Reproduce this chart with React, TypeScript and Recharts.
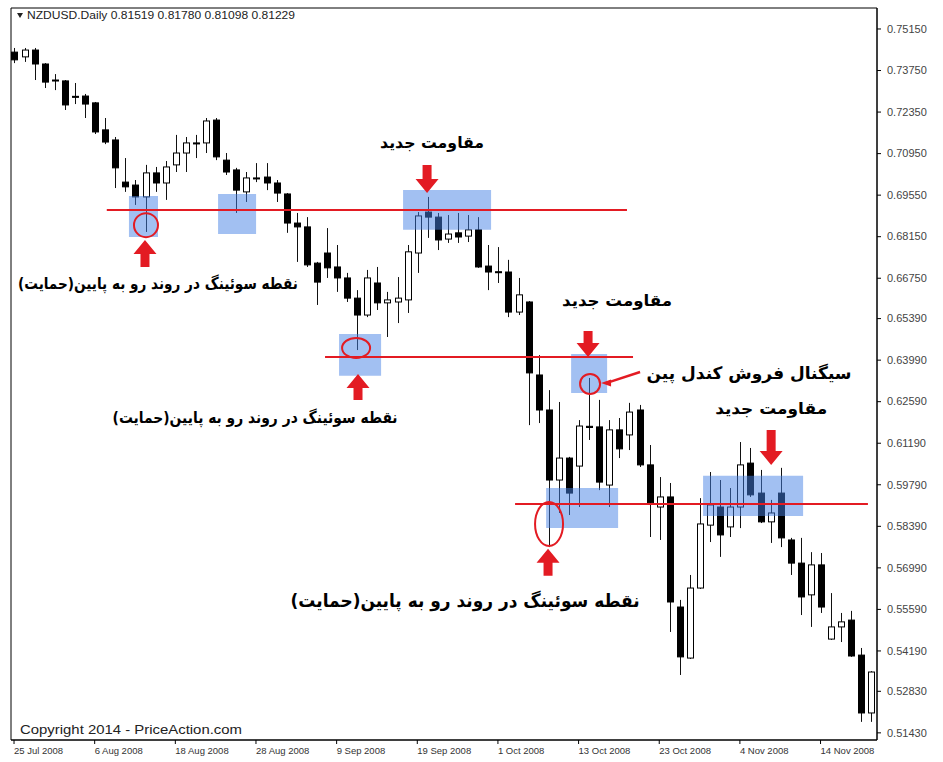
import React from 'react';
import {
  ComposedChart, Bar, XAxis, YAxis, ReferenceLine, ReferenceArea, ReferenceDot, Customized,
} from 'recharts';

// ---------- data ----------
const opens = [
  0.7437, 0.7421, 0.7444, 0.7397, 0.7343, 0.7340, 0.7288, 0.7289, 0.7266, 0.7175,
  0.7141, 0.6999, 0.6989, 0.6949, 0.7030, 0.6996, 0.7057, 0.7097, 0.7131, 0.7131,
  0.7208, 0.7073, 0.7040, 0.6966, 0.7013, 0.7016, 0.6996, 0.6959, 0.6861, 0.6848,
  0.6726, 0.6760, 0.6713, 0.6676, 0.6608, 0.6551, 0.6659, 0.6592, 0.6595, 0.6602,
  0.6760, 0.6898, 0.6881, 0.6807, 0.6828, 0.6817, 0.6838, 0.6716, 0.6697, 0.6696,
  0.6561, 0.6595, 0.6349, 0.6231, 0.5995, 0.6069, 0.6042, 0.6176, 0.6174, 0.5978,
  0.6164, 0.6147, 0.6231, 0.6046, 0.5904, 0.5938, 0.5567, 0.5395, 0.5631, 0.5843,
  0.5904, 0.5837, 0.5904, 0.6052, 0.5951, 0.5854, 0.5951, 0.5793, 0.5715, 0.5608,
  0.5709, 0.5459, 0.5500, 0.5523, 0.5405, 0.5210,
];
const highs = [
  0.7451, 0.7451, 0.7451, 0.7400, 0.7363, 0.7343, 0.7333, 0.7296, 0.7269, 0.7215,
  0.7151, 0.7080, 0.7006, 0.7057, 0.7050, 0.7070, 0.7158, 0.7151, 0.7158, 0.7215,
  0.7215, 0.7097, 0.7047, 0.7033, 0.7063, 0.7063, 0.7006, 0.6962, 0.6895, 0.6881,
  0.6730, 0.6844, 0.6787, 0.6693, 0.6635, 0.6703, 0.6713, 0.6629, 0.6679, 0.6787,
  0.6898, 0.6949, 0.6895, 0.6888, 0.6895, 0.6888, 0.6881, 0.6787, 0.6780, 0.6737,
  0.6676, 0.6598, 0.6416, 0.6298, 0.6258, 0.6073, 0.6197, 0.6339, 0.6265, 0.6197,
  0.6204, 0.6255, 0.6248, 0.6113, 0.6005, 0.5985, 0.5591, 0.5675, 0.5934, 0.6022,
  0.5995, 0.5968, 0.6123, 0.6103, 0.6029, 0.5928, 0.6036, 0.5800, 0.5800, 0.5752,
  0.5749, 0.5614, 0.5547, 0.5554, 0.5429, 0.5351,
];
const lows = [
  0.7400, 0.7404, 0.7343, 0.7316, 0.7309, 0.7242, 0.7262, 0.7215, 0.7161, 0.7127,
  0.6979, 0.6966, 0.6922, 0.6831, 0.6966, 0.6939, 0.7033, 0.7033, 0.7080, 0.7097,
  0.7073, 0.7023, 0.6895, 0.6932, 0.6999, 0.6972, 0.6932, 0.6828, 0.6730, 0.6713,
  0.6585, 0.6676, 0.6629, 0.6595, 0.6433, 0.6544, 0.6568, 0.6477, 0.6524, 0.6558,
  0.6693, 0.6811, 0.6770, 0.6794, 0.6794, 0.6797, 0.6710, 0.6635, 0.6659, 0.6544,
  0.6551, 0.6180, 0.6187, 0.5769, 0.5884, 0.5877, 0.5904, 0.6130, 0.5961, 0.5904,
  0.6069, 0.6096, 0.6039, 0.5803, 0.5793, 0.5483, 0.5338, 0.5392, 0.5628, 0.5786,
  0.5736, 0.5803, 0.5833, 0.5938, 0.5850, 0.5783, 0.5769, 0.5675, 0.5540, 0.5500,
  0.5547, 0.5456, 0.5449, 0.5399, 0.5180, 0.5180,
];
const closes = [
  0.7411, 0.7444, 0.7397, 0.7336, 0.7340, 0.7259, 0.7285, 0.7262, 0.7168, 0.7134,
  0.7047, 0.6983, 0.6949, 0.7030, 0.6996, 0.7050, 0.7097, 0.7131, 0.7129, 0.7205,
  0.7084, 0.7033, 0.6972, 0.7013, 0.7011, 0.6996, 0.6962, 0.6861, 0.6848, 0.6720,
  0.6662, 0.6710, 0.6676, 0.6608, 0.6551, 0.6676, 0.6592, 0.6602, 0.6608, 0.6764,
  0.6885, 0.6881, 0.6804, 0.6824, 0.6814, 0.6838, 0.6713, 0.6696, 0.6695, 0.6561,
  0.6619, 0.6356, 0.6231, 0.5995, 0.6069, 0.5951, 0.6177, 0.6172, 0.5988, 0.6164,
  0.6100, 0.6224, 0.6046, 0.5918, 0.5938, 0.5584, 0.5399, 0.5631, 0.5847, 0.5911,
  0.5810, 0.5904, 0.6046, 0.5945, 0.5854, 0.5884, 0.5800, 0.5715, 0.5601, 0.5709,
  0.5567, 0.5500, 0.5517, 0.5402, 0.5210, 0.5348,
];
const dateLabels = [
  '25 Jul 2008', '6 Aug 2008', '18 Aug 2008', '28 Aug 2008', '9 Sep 2008', '19 Sep 2008',
  '1 Oct 2008', '13 Oct 2008', '23 Oct 2008', '4 Nov 2008', '14 Nov 2008',
];
const dateTickIdx = [0, 8, 16, 24, 32, 40, 48, 56, 64, 72, 80];
const priceTicks = [
  0.7515, 0.7375, 0.7235, 0.7095, 0.6955, 0.6815, 0.6675, 0.6539, 0.6399,
  0.6259, 0.6119, 0.5979, 0.5839, 0.5699, 0.5559, 0.5419, 0.5283, 0.5143,
];
const headerText = 'NZDUSD.Daily  0.81519 0.81780 0.81098 0.81229';
const copyrightText = 'Copyright 2014 - PriceAction.com';

// annotations (bar index / price)
const levelLines = [
  { x1: 9.2, x2: 60.8, p: 0.6905 },
  { x1: 30.85, x2: 61.4, p: 0.6410 },
  { x1: 49.7, x2: 84.7, p: 0.5914 },
];
const zones = [
  { x1: 11.4, x2: 14.28, p1: 0.6814, p2: 0.6952 },
  { x1: 20.24, x2: 24.01, p1: 0.6824, p2: 0.6959 },
  { x1: 32.24, x2: 36.41, p1: 0.6346, p2: 0.6487 },
  { x1: 38.59, x2: 47.32, p1: 0.6838, p2: 0.6972 },
  { x1: 55.26, x2: 58.83, p1: 0.6288, p2: 0.6420 },
  { x1: 52.78, x2: 59.92, p1: 0.5833, p2: 0.5968 },
  { x1: 68.35, x2: 78.27, p1: 0.5874, p2: 0.6009 },
];
const rings = [
  { x: 13.09, p: 0.6854, rx: 12, ry: 12 },
  { x: 33.93, p: 0.6440, rx: 14, ry: 10 },
  { x: 57.14, p: 0.6319, rx: 10, ry: 10 },
  { x: 53.07, p: 0.5847, rx: 14, ry: 22 },
];
const arrows = [
  { x: 12.99, p: 0.6804, dir: 'up', len: 27 },
  { x: 40.97, p: 0.6962, dir: 'down', len: 28 },
  { x: 34.12, p: 0.6352, dir: 'up', len: 26 },
  { x: 56.94, p: 0.6410, dir: 'down', len: 26 },
  { x: 52.97, p: 0.5763, dir: 'up', len: 27 },
  { x: 75.1, p: 0.6046, dir: 'down', len: 35 },
];
const notes = [
  { x: 41.47, p: 0.7134, text: 'مقاومت جدید', w: 104, size: 16 },
  { x: 14.28, p: 0.6656, text: 'نقطه سوئینگ در روند رو به پایین(حمایت)', w: 280, size: 16 },
  { x: 59.82, p: 0.6602, text: 'مقاومت جدید', w: 110, size: 16 },
  { x: 72.91, p: 0.6356, text: 'سیگنال فروش کندل پین', w: 205, size: 17 },
  { x: 75.1, p: 0.6238, text: 'مقاومت جدید', w: 112, size: 16 },
  { x: 23.91, p: 0.6207, text: 'نقطه سوئینگ در روند رو به پایین(حمایت)', w: 285, size: 16 },
  { x: 44.74, p: 0.5587, text: 'نقطه سوئینگ در روند رو به پایین(حمایت)', w: 349, size: 18 },
];
const pointer = { x1: 62.1, p1: 0.6359, x2: 58.23, p2: 0.6322 };

const data = opens.map((o, i) => ({
  i, open: o, high: highs[i], low: lows[i], close: closes[i],
}));

const X_DOMAIN: [number, number] = [-0.3, 85.6];
const Y_DOMAIN: [number, number] = [0.51189, 0.75857];
const RED = '#e31b23';
const SANS = "'Liberation Sans', Arial, sans-serif";

const Candle = (props: any) => {
  const { x, y, width, height, payload } = props;
  if (x == null || y == null) return null;
  const top = Math.min(y, y + height);
  const h = Math.abs(height);
  const { open, close, high, low } = payload;
  const span = high - low || 1e-9;
  const py = (p: number) => top + ((high - p) / span) * h;
  const cx = Math.round(x + width / 2) + 0.5;
  const bTop = py(Math.max(open, close));
  const bBot = py(Math.min(open, close));
  const bull = close > open;
  return (
    <g>
      <line x1={cx} x2={cx} y1={top} y2={top + h} stroke="#111" strokeWidth={1} />
      <rect x={cx - 3} y={bTop} width={6} height={Math.max(bBot - bTop, 1)}
        fill={bull ? '#fff' : '#000'} stroke="#000" strokeWidth={1} />
    </g>
  );
};

const arrowShape = (dir: string, len: number) => (props: any) => {
  const { cx, cy } = props;
  const s = dir === 'up' ? 1 : -1;
  const hw = 11.5, hh = 14, sw = 4.5;
  const pts = [
    [0, 0], [-hw, hh], [-sw, hh], [-sw, len], [sw, len], [sw, hh], [hw, hh],
  ].map(([dx, dy]) => `${cx + dx},${cy + s * dy}`).join(' ');
  return <polygon points={pts} fill={RED} />;
};

const ringShape = (rx: number, ry: number) => (props: any) => (
  <ellipse cx={props.cx} cy={props.cy} rx={rx} ry={ry} fill="none" stroke={RED} strokeWidth={2} />
);

const noteShape = (text: string, w: number, size: number) => (props: any) => (
  <text x={props.cx} y={props.cy} dy={size * 0.35} textAnchor="middle" direction="rtl"
    fontFamily="'DejaVu Sans', sans-serif" fontWeight="bold" fontSize={size} fill="#000"
    textLength={w} lengthAdjust="spacingAndGlyphs">
    {text}
  </text>
);

const headShape = (props: any) => {
  const { cx, cy } = props;
  return <polygon points={`${cx},${cy} ${cx + 10},${cy - 3.5} ${cx + 10},${cy + 3.5}`} fill={RED} />;
};

const XTick = (props: any) => {
  const { x, y, payload } = props;
  const k = dateTickIdx.indexOf(payload.value);
  return (
    <text x={x} y={y + 7.5} textAnchor="start" fontFamily={SANS} fontSize={9.5} fill="#333">
      {dateLabels[k] ?? ''}
    </text>
  );
};

const YTick = (props: any) => {
  const { x, y, payload } = props;
  return (
    <text x={x} y={y + 3.8} textAnchor="start" fontFamily={SANS} fontSize={11} fill="#444">
      {Number(payload.value).toFixed(5)}
    </text>
  );
};

const Overlay = () => (
  <g>
    <polygon points="17,13 23,13 20,18" fill="#222" />
    <text x={27} y={19} fontFamily={SANS} fontSize={11.5} fill="#222" textLength={268}
      lengthAdjust="spacingAndGlyphs">
      {headerText}
    </text>
    <text x={20} y={734} fontFamily={SANS} fontSize={13.5} fill="#222" textLength={222}
      lengthAdjust="spacingAndGlyphs">
      {copyrightText}
    </text>
  </g>
);

export default function App() {
  return (
    <div style={{ position: 'absolute', left: 0, top: 0, background: '#fff' }}>
      <ComposedChart width={943} height={762} data={data}
        margin={{ top: 8, right: 6, left: 11, bottom: 0 }}>
        <XAxis type="number" dataKey="i" domain={X_DOMAIN} allowDataOverflow ticks={dateTickIdx}
          height={22} tickSize={4} tickLine={{ stroke: '#000' }} axisLine={{ stroke: '#000' }}
          tick={<XTick />} interval={0} />
        <YAxis type="number" orientation="right" domain={Y_DOMAIN} allowDataOverflow ticks={priceTicks}
          width={60} tickSize={4} tickMargin={6} tickLine={{ stroke: '#000' }} axisLine={{ stroke: '#000' }}
          tick={<YTick />} interval={0} />
        <Bar dataKey={(d: any) => [d.low, d.high]} barSize={7} shape={<Candle />} isAnimationActive={false} />
        {zones.map((z, k) => (
          <ReferenceArea key={'z' + k} x1={z.x1} x2={z.x2} y1={z.p1} y2={z.p2}
            fill="rgb(70,130,230)" fillOpacity={0.5} stroke="none" zIndex={350} />
        ))}
        {levelLines.map((l, k) => (
          <ReferenceLine key={'l' + k} segment={[{ x: l.x1, y: l.p }, { x: l.x2, y: l.p }]}
            stroke={RED} strokeWidth={2} />
        ))}
        <ReferenceLine segment={[{ x: pointer.x1, y: pointer.p1 }, { x: pointer.x2 + 0.8, y: pointer.p2 + 0.0003 }]}
          stroke={RED} strokeWidth={2.5} />
        <ReferenceDot x={pointer.x2} y={pointer.p2} shape={headShape} />
        {rings.map((r, k) => (
          <ReferenceDot key={'r' + k} x={r.x} y={r.p} shape={ringShape(r.rx, r.ry)} />
        ))}
        {arrows.map((a, k) => (
          <ReferenceDot key={'a' + k} x={a.x} y={a.p} shape={arrowShape(a.dir, a.len)} />
        ))}
        {notes.map((n, k) => (
          <ReferenceDot key={'n' + k} x={n.x} y={n.p} shape={noteShape(n.text, n.w, n.size)} />
        ))}
        <ReferenceArea x1={X_DOMAIN[0]} x2={X_DOMAIN[1]} y1={Y_DOMAIN[0]} y2={Y_DOMAIN[1]}
          fill="none" stroke="#000" strokeWidth={1} ifOverflow="visible" />
        <Customized component={Overlay} />
      </ComposedChart>
    </div>
  );
}
